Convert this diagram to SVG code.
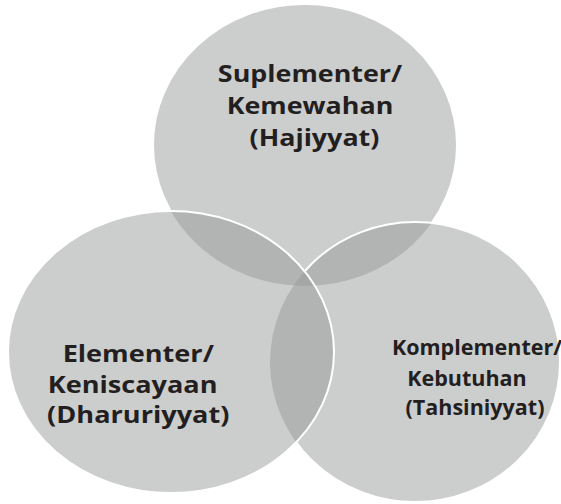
<svg xmlns="http://www.w3.org/2000/svg" width="561" height="504" viewBox="0 0 561 504">
<style>
.f{fill:#97989a;fill-opacity:0.49}
.s{fill:none;stroke:#ffffff;stroke-width:2}
.t{font-family:"Open Sans","Liberation Sans",sans-serif;font-weight:bold;fill:#231f20;text-anchor:middle}
</style>
<defs>
<mask id="outLeft" maskUnits="userSpaceOnUse" x="0" y="0" width="561" height="504">
<rect width="561" height="504" fill="#fff"/>
<ellipse cx="171" cy="352" rx="163" ry="141" fill="#000"/>
</mask>
<mask id="outBoth" maskUnits="userSpaceOnUse" x="0" y="0" width="561" height="504">
<rect width="561" height="504" fill="#fff"/>
<ellipse cx="171" cy="352" rx="163" ry="141" fill="#000"/>
<ellipse cx="415" cy="362" rx="145" ry="140" fill="#000"/>
</mask>
</defs>
<rect width="561" height="504" fill="#ffffff"/>
<g id="fills">
<ellipse id="top-fill" class="f" cx="305" cy="145" rx="152" ry="141"/>
<ellipse id="left-fill" class="f" cx="171" cy="352" rx="163" ry="141"/>
<ellipse id="right-fill" class="f" cx="415" cy="362" rx="145" ry="140"/>
</g>
<g id="outlines">
<ellipse class="s" cx="305" cy="145" rx="152" ry="141" mask="url(#outBoth)"/>
<ellipse class="s" cx="415" cy="362" rx="145" ry="140" mask="url(#outLeft)"/>
<ellipse class="s" cx="171" cy="352" rx="163" ry="141"/>
</g>
<g id="node-top">
<text class="t" font-size="24" transform="matrix(1.12,0,0,1,-37.2,0)"><tspan x="310" y="82">Suplementer/</tspan><tspan x="310" y="114">Kemewahan</tspan><tspan x="314" y="146">(Hajiyyat)</tspan></text>
</g>
<g id="node-left">
<text class="t" font-size="24" transform="matrix(1.13,0,0,1,-17.7,0)"><tspan x="138" y="362">Elementer/</tspan><tspan x="133" y="393">Keniscayaan</tspan><tspan x="138" y="423">(Dharuriyyat)</tspan></text>
</g>
<g id="node-right">
<text class="t" font-size="21.5"><tspan x="477" y="355">Komplementer/</tspan><tspan x="467" y="386">Kebutuhan</tspan><tspan x="475" y="415">(Tahsiniyyat)</tspan></text>
</g>
</svg>
